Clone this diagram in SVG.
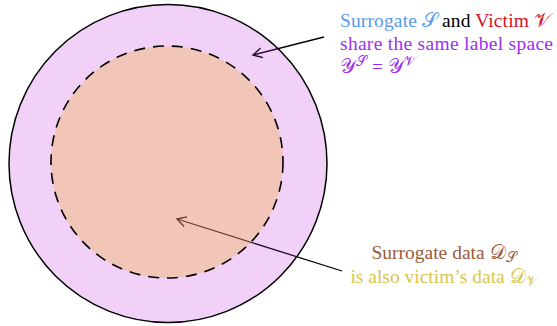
<svg xmlns="http://www.w3.org/2000/svg" width="557" height="326" viewBox="0 0 557 326">
<style>
text{font-family:"Liberation Serif","DejaVu Serif",serif;font-size:19.5px}
.blue{fill:#5a9ae6}.red{fill:#d4112b}.pur{fill:#9c2ff0}.brn{fill:#9a5a3a}.yel{fill:#d6c64c}
.conn{stroke:#000;stroke-width:1.3;fill:none}
</style>
<defs>
<marker id="ah" viewBox="-10 -6 12 12" markerWidth="12" markerHeight="12" refX="0" refY="0" orient="auto" markerUnits="userSpaceOnUse">
<path d="M-9,-5 Q-2,-1 0,0 Q-2,1 -9,5" fill="none" stroke="#000" stroke-width="1.3"/>
</marker>
</defs>
<g id="connectors">
<line class="conn" x1="324" y1="37" x2="253" y2="55" marker-end="url(#ah)"/>
<line class="conn" x1="342" y1="271" x2="177" y2="219" marker-end="url(#ah)"/>
</g>
<g id="outer">
<circle cx="168" cy="163.5" r="159" fill="#be2dda" fill-opacity="0.22" stroke="none"/>
</g>
<g id="inner">
<circle cx="167" cy="162" r="116" fill="#f6ac30" fill-opacity="0.31" stroke="none"/>
<circle cx="167" cy="162" r="116" fill="none" stroke="#000" stroke-width="1.6" stroke-dasharray="11,8"/>
</g>
<circle cx="168" cy="163.5" r="159" fill="none" stroke="#000" stroke-width="1.5"/>
<g id="label-top">
<text x="340" y="27" textLength="211" lengthAdjust="spacing"><tspan class="blue">Surrogate 𝒮</tspan><tspan> and </tspan><tspan class="red">Victim 𝒱</tspan></text>
<text x="340" y="50" class="pur" textLength="213" lengthAdjust="spacing">share the same label space</text>
<text x="340" y="73" class="pur">𝒴<tspan font-size="14" dy="-7">𝒮</tspan><tspan dy="7"> = 𝒴</tspan><tspan font-size="14" dy="-7">𝒱</tspan></text>
</g>
<g id="label-bottom">
<text x="444" y="259" text-anchor="middle" class="brn">Surrogate data 𝒟<tspan font-size="14" dy="3">𝒮</tspan></text>
<text x="444" y="283" text-anchor="middle" class="yel">is also victim’s data 𝒟<tspan font-size="14" dy="3">𝒱</tspan></text>
</g>
</svg>
